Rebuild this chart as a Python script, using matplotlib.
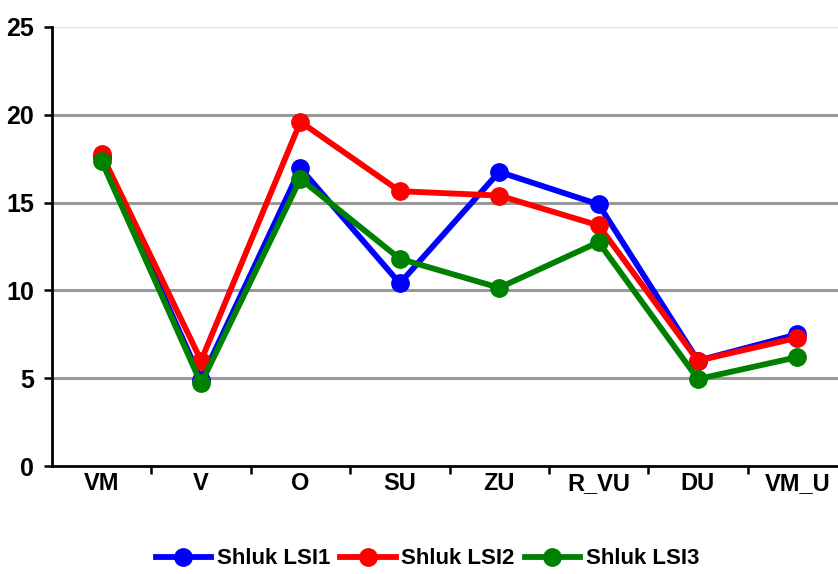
import numpy as np
import matplotlib.pyplot as plt
from matplotlib.ticker import FixedLocator

# ============================================================
# DATOS
# ============================================================

kategorie = ["VM", "V", "O", "SU", "ZU", "R_VU", "DU", "VM_U"]

lsi1 = [17.6, 4.9, 16.95, 10.4, 16.75, 14.9, 6.0, 7.5]
lsi2 = [17.75, 6.0, 19.6, 15.65, 15.4, 13.7, 6.0, 7.3]
lsi3 = [17.35, 4.7, 16.35, 11.8, 10.15, 12.75, 4.95, 6.2]

nazvy = ["Shluk LSI1", "Shluk LSI2", "Shluk LSI3"]
barvy = ["#0000ff", "#ff0000", "#008000"]

# ============================================================
# GRAF
# ============================================================

plt.rcParams["font.family"] = ["Liberation Sans", "DejaVu Sans"]
plt.rcParams["font.weight"] = "bold"

fig = plt.figure(figsize=(8.38, 5.74), dpi=100)
W, H = 838, 574
ax = fig.add_axes([52 / W, 1 - 466 / H, (847 - 52) / W, (466 - 27) / H])

x = np.arange(len(kategorie))
for serie, nazev, barva in zip([lsi1, lsi2, lsi3], nazvy, barvy):
    ax.plot(x, serie, color=barva, lw=4.2, marker="o", ms=12.5,
            label=nazev, solid_joinstyle="round")

ax.set_xlim(-0.5, len(kategorie) - 0.5)
ax.set_ylim(0, 25)
ax.set_yticks([0, 5, 10, 15, 20, 25])

for v in [5, 10, 15, 20]:
    ax.axhline(v, color="#999999", lw=2.2, zorder=0)
ax.axhline(25, color="#e0e0e0", lw=1.0, zorder=0)

ax.set_xticks(x)
ax.set_xticklabels(kategorie, fontsize=17, fontweight="bold")
ax.xaxis.set_minor_locator(FixedLocator(np.arange(0.5, len(kategorie), 1.0)))
ax.tick_params(axis="x", which="major", length=0, pad=4)
ax.tick_params(axis="x", which="minor", length=6, width=1.8, direction="out")
ax.tick_params(axis="y", length=6, width=1.8, direction="out", labelsize=18, pad=7)
for lab in ax.get_yticklabels():
    lab.set_fontweight("bold")

for s in ["top", "right"]:
    ax.spines[s].set_visible(False)
for s in ["left", "bottom"]:
    ax.spines[s].set_linewidth(2.0)

leg = fig.legend(loc="center", bbox_to_anchor=(0.51, 1 - 559 / H), ncol=3,
                 frameon=False, fontsize=16, handlelength=2.5,
                 columnspacing=0.45, handletextpad=0.25)
for t in leg.get_texts():
    t.set_fontweight("bold")

fig.savefig("out.png", dpi=100)
